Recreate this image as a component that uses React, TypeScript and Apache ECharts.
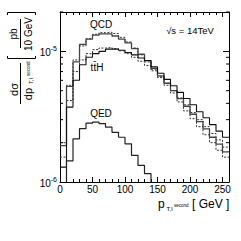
import React, { useEffect, useRef } from "react";
import * as echarts from "echarts";

const binEdges = [0, 10, 20, 30, 40, 50, 60, 70, 80, 90, 100, 110, 120, 130, 140, 150, 160, 170, 180, 190, 200, 210, 220, 230, 240, 250, 260];

const qcd = [1.9e-6, 5.4e-6, 8.3e-6, 1.13e-5, 1.24e-5, 1.33e-5, 1.36e-5, 1.36e-5, 1.31e-5, 1.24e-5, 1.16e-5, 1.05e-5, 9.5e-6, 8.5e-6, 7.4e-6, 6.5e-6, 5.7e-6, 5.0e-6, 4.35e-6, 3.8e-6, 3.3e-6, 2.9e-6, 2.55e-6, 2.2e-6, 1.95e-6, 1.7e-6];
const qcdAlt = [2.0e-6, 5.5e-6, 8.6e-6, 1.1e-5, 1.25e-5, 1.35e-5, 1.39e-5, 1.4e-5, 1.37e-5, 1.28e-5, 1.18e-5, 1.06e-5, 9.4e-6, 8.3e-6, 7.3e-6, 6.3e-6, 5.5e-6, 4.8e-6, 4.1e-6, 3.5e-6, 3.05e-6, 2.65e-6, 2.3e-6, 2.0e-6, 1.75e-6, 1.55e-6];
const tth = [1.3e-6, 3.74e-6, 6.0e-6, 7.9e-6, 9.0e-6, 9.6e-6, 1.0e-5, 1.04e-5, 1.04e-5, 1.02e-5, 9.8e-6, 9.4e-6, 8.9e-6, 8.5e-6, 7.6e-6, 6.8e-6, 6.1e-6, 5.45e-6, 4.85e-6, 4.35e-6, 3.9e-6, 3.45e-6, 3.1e-6, 2.75e-6, 2.45e-6, 2.2e-6];
const tthAlt = [1.55e-6, 4.2e-6, 7.0e-6, 8.6e-6, 9.6e-6, 1.03e-5, 1.06e-5, 1.07e-5, 1.05e-5, 1.01e-5, 9.6e-6, 9.0e-6, 8.4e-6, 7.8e-6, 7.1e-6, 6.4e-6, 5.7e-6, 5.0e-6, 4.4e-6, 3.9e-6, 3.4e-6, 3.0e-6, 2.65e-6, 2.35e-6, 2.1e-6, 1.85e-6];
const qed = [0.7e-6, 1.45e-6, 2.14e-6, 2.56e-6, 2.82e-6, 2.87e-6, 2.8e-6, 2.63e-6, 2.4e-6, 2.2e-6, 1.96e-6, 1.6e-6, 1.34e-6, 1.16e-6, 0.8e-6];

const yMinorTicks = [2e-6, 3e-6, 4e-6, 5e-6, 6e-6, 7e-6, 8e-6, 9e-6, 2e-5];
const xRange = [0, 260];
const yRange = [1e-6, 2e-5];

const curveLabels = ["QCD", "tt\u0304H", "QED"];
const energyLabel = "\u221As = 14TeV";

const FONT = "Liberation Sans, Arial, Helvetica, sans-serif";

function steps(vals: number[]) {
  const pts: number[][] = vals.map((v, i) => [binEdges[i], v]);
  pts.push([binEdges[vals.length], vals[vals.length - 1]]);
  return pts;
}

function txt(x: number, y: number, text: string, size: number, align = "center", valign = "middle") {
  return {
    type: "text",
    x,
    y,
    silent: true,
    style: {
      text,
      fill: "#000",
      fontSize: size,
      fontFamily: FONT,
      align,
      verticalAlign: valign,
      textAlign: align,
      textVerticalAlign: valign,
    },
  };
}

export default function App() {
  const ref = useRef<HTMLDivElement>(null);
  useEffect(() => {
    if (!ref.current) return;
    const chart = echarts.init(ref.current, undefined, { renderer: "svg" });
    const lineS = (data: number[], color: string, width: number, type: any) => ({
      type: "line",
      step: "end",
      data: steps(data),
      symbol: "none",
      clip: true,
      xAxisIndex: 0,
      yAxisIndex: 0,
      lineStyle: { color, width, type },
      z: 3,
    });
    const xAxisBase = {
      type: "value",
      min: xRange[0],
      max: xRange[1],
      interval: 50,
      splitLine: { show: false },
      axisLine: { show: true, onZero: false, lineStyle: { color: "#000", width: 1 } },
      axisTick: { show: true, inside: true, length: 5, lineStyle: { color: "#000" } },
      minorTick: { show: true, splitNumber: 5, length: 3, lineStyle: { color: "#000" } },
    };
    const yAxisBase = {
      type: "log",
      logBase: 10,
      min: yRange[0],
      max: yRange[1],
      splitLine: { show: false },
      axisLine: { show: true, onZero: false, lineStyle: { color: "#000", width: 1 } },
      axisTick: { show: true, inside: true, length: 6, lineStyle: { color: "#000" } },
    };
    const option: any = {
      animation: false,
      backgroundColor: "#fff",
      grid: { left: 60, top: 12, width: 169, height: 170 },
      xAxis: [
        {
          ...xAxisBase,
          position: "bottom",
          axisLabel: { show: true, fontSize: 10, color: "#000", fontFamily: FONT, margin: 2, showMaxLabel: false },
        },
        { ...xAxisBase, position: "top", axisLabel: { show: false } },
      ],
      yAxis: [
        {
          ...yAxisBase,
          position: "left",
          axisLabel: {
            show: true,
            margin: 3,
            color: "#000",
            fontFamily: FONT,
            formatter: (v: number) => {
              const l = Math.log10(v);
              const e = Math.round(l);
              if (Math.abs(l - e) > 1e-6) return "";
              return `{b|10}{s|${e}}`;
            },
            rich: {
              b: { fontSize: 10, lineHeight: 12, verticalAlign: "bottom", fontFamily: FONT, color: "#000" },
              s: { fontSize: 7, lineHeight: 12, verticalAlign: "top", fontFamily: FONT, color: "#000" },
            },
          },
        },
        { ...yAxisBase, position: "right", axisLabel: { show: false } },
      ],
      series: [
        lineS(qcdAlt, "#333", 1, [2, 1.5]),
        lineS(tthAlt, "#333", 1, [2, 1.5]),
        lineS(qcd, "#444", 1.3, "solid"),
        lineS(tth, "#111", 1.1, "solid"),
        lineS(qed, "#222", 1.2, "solid"),
        {
          type: "custom",
          data: yMinorTicks.map((v) => [xRange[0], v]),
          encode: { x: 0, y: 1 },
          clip: false,
          silent: true,
          z: 4,
          renderItem: (params: any, api: any) => {
            const v = api.value(1);
            const l = api.coord([xRange[0], v]);
            const r = api.coord([xRange[1], v]);
            return {
              type: "group",
              children: [
                { type: "line", shape: { x1: l[0], y1: l[1], x2: l[0] + 3, y2: l[1] }, style: { stroke: "#000", lineWidth: 1 } },
                { type: "line", shape: { x1: r[0] - 3, y1: r[1], x2: r[0], y2: r[1] }, style: { stroke: "#000", lineWidth: 1 } },
              ],
            };
          },
        },
      ],
      graphic: [
        txt(101, 24, curveLabels[0], 10),
        txt(97, 67, curveLabels[1], 10),
        txt(101, 113.5, curveLabels[2], 10),
        txt(190, 30, energyLabel, 9.5),
        // x title
        txt(158, 209.5, "p", 12, "left", "bottom"),
        txt(166.5, 208.5, "T,l", 6, "left"),
        txt(174, 205, "second", 4.5, "left"),
        txt(192, 209.5, "[ GeV ]", 12, "left", "bottom"),
        // y title (rotated)
        {
          type: "group",
          x: 20.5,
          y: 110,
          rotation: Math.PI / 2,
          silent: true,
          children: [
            txt(20.5, -6.5, "d\u03C3", 11),
            { type: "line", shape: { x1: 6, y1: 0, x2: 47, y2: 0 }, style: { stroke: "#000", lineWidth: 1 } },
            txt(16, 7, "dp", 11),
            txt(26, 10.5, "T,l", 6, "left"),
            txt(34, 8, "second", 4.5, "left"),
            { type: "polyline", shape: { points: [[54, -13], [51.5, -13], [51.5, 15], [54, 15]] }, style: { stroke: "#000", lineWidth: 1, fill: "none" } },
            txt(76, -7, "pb", 10),
            { type: "line", shape: { x1: 62, y1: 0, x2: 91, y2: 0 }, style: { stroke: "#000", lineWidth: 1 } },
            txt(76, 7.5, "10 GeV", 10),
            { type: "polyline", shape: { points: [[95, -13], [97.5, -13], [97.5, 15], [95, 15]] }, style: { stroke: "#000", lineWidth: 1, fill: "none" } },
          ],
        },
      ],
    };
    chart.setOption(option);
    return () => chart.dispose();
  }, []);
  return <div ref={ref} style={{ position: "fixed", left: 0, top: 0, width: 241, height: 241 }} />;
}
